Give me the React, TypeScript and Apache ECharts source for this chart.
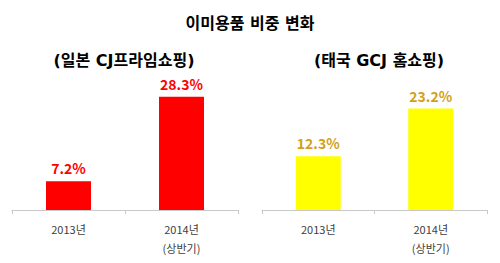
import React, { useEffect, useRef } from "react";
import * as echarts from "echarts";

const categories = ["2013년", "2014년\n(상반기)"];
const japanValues = [7.2, 28.3];
const thailandValues = [12.3, 23.2];
const mainTitle = "이미용품 비중 변화";
const japanTitle = "(일본 CJ프라임쇼핑)";
const thailandTitle = "(태국 GCJ 홈쇼핑)";

const FONT = "'Noto Sans CJK KR', 'Noto Sans', sans-serif";
const HEAD_FONT = "'DejaVu Sans', 'Noto Sans CJK KR', sans-serif";

export default function App() {
  const ref = useRef<HTMLDivElement>(null);
  useEffect(() => {
    if (!ref.current) return;
    const chart = echarts.init(ref.current, null, { renderer: "svg" });
    const xAxisBase = {
      type: "category" as const,
      data: categories,
      axisLine: { lineStyle: { color: "#c8c8c8", width: 1 } },
      axisTick: { show: true, alignWithLabel: false, length: 4, lineStyle: { color: "#c8c8c8" } },
      axisLabel: { color: "#404040", fontSize: 11, fontFamily: FONT, lineHeight: 19, margin: 9 },
    };
    const yAxisBase = {
      type: "value" as const,
      min: 0,
      max: 40,
      show: false,
      splitLine: { show: false },
    };
    chart.setOption({
      animation: false,
      backgroundColor: "#ffffff",
      title: [
        {
          text: mainTitle,
          left: 245,
          textAlign: "center",
          top: 10,
          textStyle: { fontSize: 16, fontWeight: "bold", color: "#000", fontFamily: HEAD_FONT },
        },
        {
          text: japanTitle,
          left: 119,
          textAlign: "center",
          top: 47,
          textStyle: { fontSize: 16, fontWeight: "bold", color: "#000", fontFamily: HEAD_FONT },
        },
        {
          text: thailandTitle,
          left: 374,
          textAlign: "center",
          top: 47,
          textStyle: { fontSize: 16, fontWeight: "bold", color: "#000", fontFamily: HEAD_FONT },
        },
      ],
      grid: [
        { left: 12, width: 226, top: 50, bottom: 53 },
        { left: 262, width: 225, top: 35, bottom: 53 },
      ],
      xAxis: [
        { ...xAxisBase, gridIndex: 0 },
        { ...xAxisBase, gridIndex: 1 },
      ],
      yAxis: [
        { ...yAxisBase, gridIndex: 0 },
        { ...yAxisBase, gridIndex: 1 },
      ],
      series: [
        {
          type: "bar",
          xAxisIndex: 0,
          yAxisIndex: 0,
          data: japanValues,
          barWidth: 45,
          itemStyle: { color: "#ff0000" },
          label: {
            show: true,
            position: "top",
            distance: 6,
            formatter: "{c}%",
            color: "#ff0000",
            fontSize: 14,
            fontWeight: "bold",
            fontFamily: FONT,
          },
        },
        {
          type: "bar",
          xAxisIndex: 1,
          yAxisIndex: 1,
          data: thailandValues,
          barWidth: 45,
          itemStyle: { color: "#ffff00" },
          label: {
            show: true,
            position: "top",
            distance: 6,
            formatter: "{c}%",
            color: "#d4a017",
            fontSize: 14,
            fontWeight: "bold",
            fontFamily: FONT,
          },
        },
      ],
    });
    return () => chart.dispose();
  }, []);
  return <div ref={ref} style={{ width: 500, height: 263, position: "absolute", left: 0, top: 0 }} />;
}
